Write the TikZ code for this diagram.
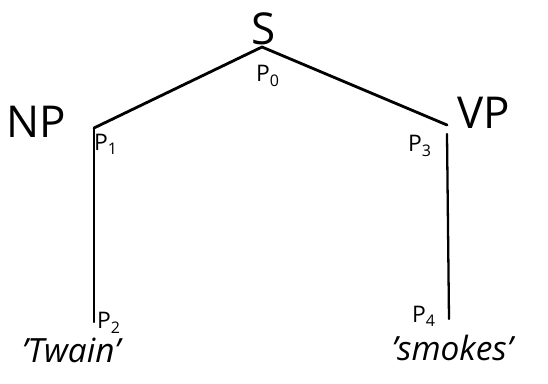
\documentclass[tikz,border=0pt]{standalone}
\usepackage{fontspec}
\setsansfont{Open Sans}
\usetikzlibrary{positioning}

\begin{document}
\begin{tikzpicture}[x=0.02cm,y=-0.02cm,
  branch/.style={line width=1.6pt,line cap=round,line join=round},
  cat/.style={font=\sffamily\fontsize{25}{28}\selectfont\mdseries,inner sep=0pt},
  pt/.style={font=\sffamily\fontsize{13}{15}\selectfont,inner sep=0pt},
  word/.style={font=\sffamily\itshape\fontsize{19}{22}\selectfont,inner sep=0pt}]
  \useasboundingbox (0,0) rectangle (548,384);
  % Tree points
  \coordinate (p0) at (262,47);
  \coordinate (p1) at (94,128);
  \coordinate (p2) at (94,322);
  \coordinate (p3) at (447,125);
  \coordinate (p3b) at (447,134);
  \coordinate (p4) at (449,319);
  % Branches
  \draw[branch] (p1) -- (p0) -- (p3);
  \draw[branch,line width=1.3pt] (p1) -- (p2);
  \draw[branch,line width=1.3pt] (p3b) -- (p4);
  % Category labels
  \node[cat] (s) at (264,29) {S};
  \node[cat] (np) at (36,122) {NP};
  \node[cat] (vp) at (484,113) {VP};
  % Point labels
  \node[pt] (l0) at (268,76) {P\textsubscript{0}};
  \node[pt] (l1) at (106,144) {P\textsubscript{1}};
  \node[pt] (l3) at (420,146) {P\textsubscript{3}};
  \node[pt] (l2) at (109,323) {P\textsubscript{2}};
  \node[pt] (l4) at (424,316) {P\textsubscript{4}};
  % Words
  \node[word] (w1) at (71,350) {'Twain'};
  \node[word] (w2) at (452,348) {'smokes'};
\end{tikzpicture}
\end{document}
